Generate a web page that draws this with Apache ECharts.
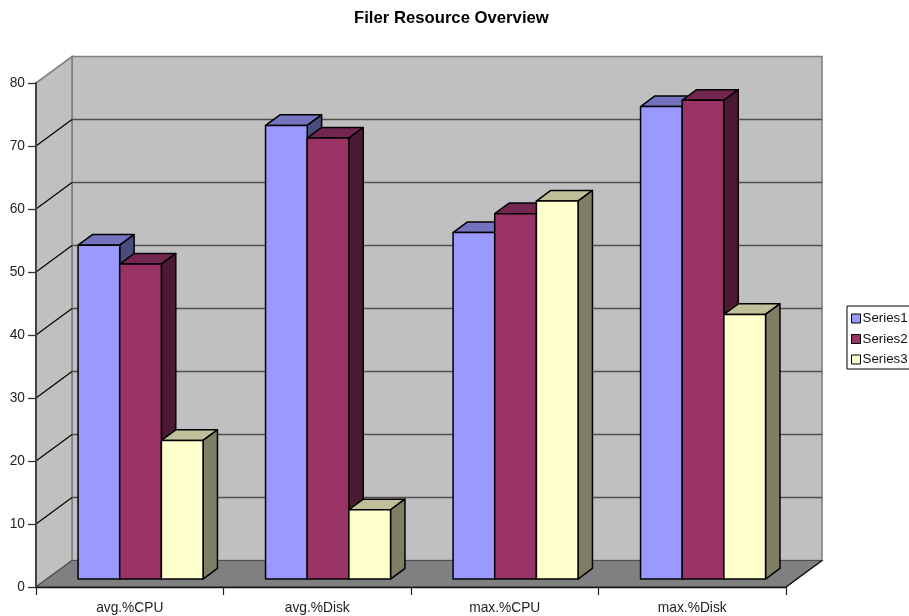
<!DOCTYPE html>
<html>
<head>
<meta charset="utf-8">
<title>Filer Resource Overview</title>
<script src="https://cdn.jsdelivr.net/npm/echarts@6/dist/echarts.min.js"></script>
<style>
  html, body { margin: 0; padding: 0; background: #fff; overflow: hidden; }
  #chart { width: 909px; height: 616px; }
</style>
</head>
<body>
<div id="chart"></div>
<script>
// Chart values
const categories = ['avg.%CPU', 'avg.%Disk', 'max.%CPU', 'max.%Disk'];
const series1 = [53, 72, 55, 75];
const series2 = [50, 70, 58, 76];
const series3 = [22, 11, 60, 42];
const valueTicks = [0, 10, 20, 30, 40, 50, 60, 70, 80];
const innerTicks = [10, 20, 30, 40, 50, 60, 70];
const seriesNames = ['Series1', 'Series2', 'Series3'];

// Oblique projection of the depth axis, in pixels
const DEPTH_X = 36;
const DEPTH_Y = -26.5;
const BAR_DEPTH_FROM = 0.3;
const BAR_DEPTH_TO = 0.7;
const BAR_SHARE = 1 / 4.5;

const FONT = '"Liberation Sans", Arial, sans-serif';
const palettes = [
  { front: '#9999ff', top: '#7373bf', side: '#4c4c7f' },
  { front: '#993366', top: '#732650', side: '#4c1933' },
  { front: '#ffffcc', top: '#bfbf99', side: '#7f7f66' }
];

const shift = (p, d) => [p[0] + DEPTH_X * d, p[1] + DEPTH_Y * d];

// Back wall, side wall and floor of the plot box
function renderSurfaces(params, api) {
  const bl = api.coord([0, 0]);
  const tl = api.coord([0, 80]);
  const half = api.size([1, 0])[0] / 2;
  const fl = [bl[0] - half, bl[1]];
  const ftl = [tl[0] - half, tl[1]];
  const fr = [fl[0] + half * 2 * categories.length, bl[1]];
  const ftr = [fr[0], ftl[1]];
  const poly = (pts, fill, stroke, lw) => ({
    type: 'polygon',
    shape: { points: pts },
    style: { fill: fill, stroke: stroke, lineWidth: lw }
  });
  return {
    type: 'group',
    children: [
      poly([shift(ftl, 1), shift(ftr, 1), shift(fr, 1), shift(fl, 1)], '#c0c0c0', '#808080', 1.6),
      poly([ftl, shift(ftl, 1), shift(fl, 1), fl], '#c0c0c0', '#808080', 1.6),
      poly([fl, shift(fl, 1), shift(fr, 1), fr], '#808080', '#505050', 1.2),
      {
        type: 'polyline',
        shape: { points: [shift(fr, 1), fr] },
        style: { stroke: '#111', lineWidth: 1.2, fill: null }
      }
    ]
  };
}

// Gridlines running along the side wall and across the back wall
function renderGridline(params, api) {
  const v = api.value(0);
  const half = api.size([1, 0])[0] / 2;
  const c = api.coord([0, v]);
  const front = [c[0] - half, c[1]];
  const back = shift(front, 1);
  const backEnd = [back[0] + half * 2 * categories.length, back[1]];
  return {
    type: 'group',
    children: [
      { type: 'polyline', shape: { points: [front, back] },
        style: { stroke: '#000', lineWidth: 1.2, fill: null } },
      { type: 'polyline', shape: { points: [back, backEnd] },
        style: { stroke: '#505050', lineWidth: 1.5, fill: null } }
    ]
  };
}

// One oblique box: front, top and side faces
function boxRenderer(seriesIndex) {
  const colors = palettes[seriesIndex];
  return function (params, api) {
    const cat = api.value(0);
    const val = api.value(1);
    const catWidth = api.size([1, 0])[0];
    const w = catWidth * BAR_SHARE;
    const base = api.coord([cat, 0]);
    const top = api.coord([cat, val]);
    const left = base[0] + (seriesIndex - 1.5) * w;
    const right = left + w;
    const a = shift([left, top[1]], BAR_DEPTH_FROM);
    const b = shift([right, top[1]], BAR_DEPTH_FROM);
    const c = shift([right, base[1]], BAR_DEPTH_FROM);
    const d = shift([left, base[1]], BAR_DEPTH_FROM);
    const dz = BAR_DEPTH_TO - BAR_DEPTH_FROM;
    const edge = { stroke: '#000', lineWidth: 1.5, lineJoin: 'round' };
    const face = (pts, fill) => ({
      type: 'polygon',
      shape: { points: pts },
      style: Object.assign({ fill: fill }, edge)
    });
    return {
      type: 'group',
      children: [
        face([a, b, shift(b, dz), shift(a, dz)], colors.top),
        face([b, shift(b, dz), shift(c, dz), c], colors.side),
        face([a, b, c, d], colors.front)
      ]
    };
  };
}

const boxData = values => values.map((v, i) => [i, v]);

const chart = echarts.init(document.getElementById('chart'), null, { renderer: 'canvas' });
chart.setOption({
  animation: false,
  backgroundColor: '#ffffff',
  title: {
    text: 'Filer Resource Overview',
    left: 354,
    top: 10,
    padding: 0,
    textStyle: { fontFamily: FONT, fontSize: 16.7, fontWeight: 'bold', color: '#000' }
  },
  legend: {
    orient: 'vertical',
    left: 847,
    top: 306,
    padding: [5, 8, 2, 4],
    itemWidth: 9,
    itemHeight: 9,
    itemGap: 5.5,
    borderColor: '#000',
    borderWidth: 1,
    backgroundColor: '#fff',
    selectedMode: false,
    textStyle: { fontFamily: FONT, fontSize: 13.33, color: '#111', padding: [0, 0, 0, -3], lineHeight: 15 },
    data: seriesNames.map((name, i) => ({
      name: name,
      icon: 'rect',
      itemStyle: { color: palettes[i].front, borderColor: '#000', borderWidth: 1 }
    }))
  },
  grid: { left: 36, right: 123, top: 83, bottom: 29, containLabel: false },
  xAxis: {
    type: 'category',
    data: categories,
    z: 5,
    axisLine: { show: true, lineStyle: { color: '#111', width: 1.3 } },
    axisTick: { show: true, alignWithLabel: false, length: 8, lineStyle: { color: '#222', width: 1.2 } },
    axisLabel: { fontFamily: FONT, fontSize: 13.75, color: '#222', margin: 14, interval: 0 }
  },
  yAxis: {
    type: 'value',
    min: 0,
    max: 80,
    interval: 10,
    z: 5,
    splitLine: { show: false },
    axisLine: { show: true, lineStyle: { color: '#444', width: 2 } },
    axisTick: { show: true, length: 8, lineStyle: { color: '#333', width: 1.3 } },
    axisLabel: { fontFamily: FONT, fontSize: 13.75, color: '#222', margin: 11 }
  },
  series: [
    { type: 'custom', name: 'surfaces', silent: true, clip: false, z: 1,
      coordinateSystem: 'cartesian2d', renderItem: renderSurfaces,
      data: [[valueTicks[0]]], encode: { y: 0 } },
    { type: 'custom', name: 'gridlines', silent: true, clip: false, z: 2,
      coordinateSystem: 'cartesian2d', renderItem: renderGridline,
      data: innerTicks.map(v => [v]), encode: { y: 0 } },
    ...[series1, series2, series3].map((values, i) => ({
      type: 'custom',
      name: seriesNames[i],
      clip: false,
      z: 3 + i,
      coordinateSystem: 'cartesian2d',
      renderItem: boxRenderer(i),
      itemStyle: { color: palettes[i].front },
      data: boxData(values),
      encode: { x: 0, y: 1 }
    }))
  ]
});
</script>
</body>
</html>
